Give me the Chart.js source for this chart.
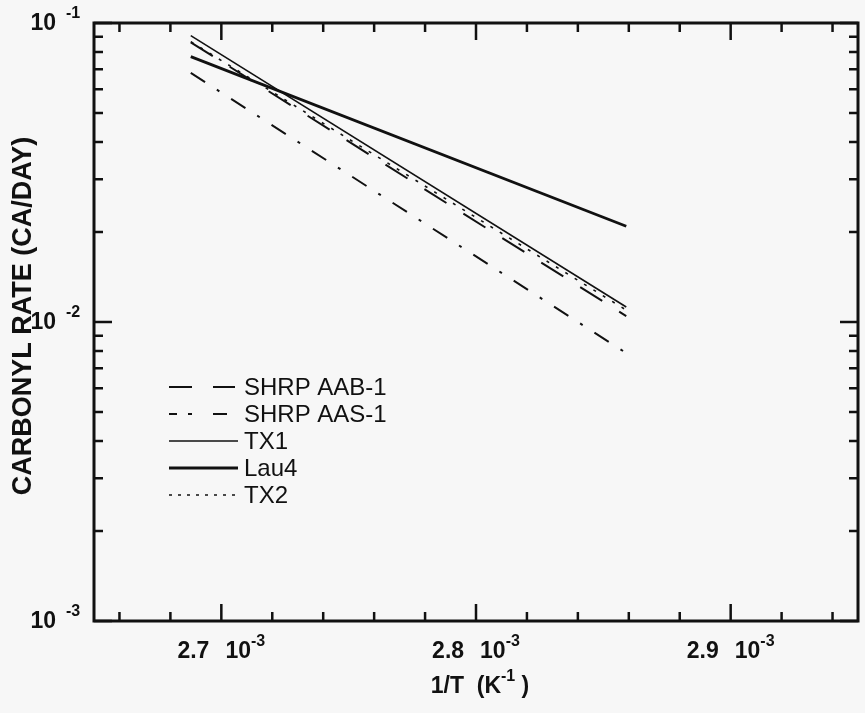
<!DOCTYPE html>
<html>
<head>
<meta charset="utf-8">
<title>Carbonyl rate vs 1/T</title>
<script src="https://cdn.jsdelivr.net/npm/chart.js@4/dist/chart.umd.min.js"></script>
<style>
  html, body { margin: 0; padding: 0; background: #f7f7f7; }
  canvas { display: block; }
</style>
</head>
<body>
<canvas id="rateChart" width="865" height="713"></canvas>
<script>
// 1/T end points of each fitted line (K^-1)
const invT = [2.688e-3, 2.859e-3];

// carbonyl formation rate (CA/day) at those end points
const aab1 = [0.0862, 0.01047];
const aas1 = [0.0681, 0.00787];
const tx1 = [0.0907, 0.01122];
const lau4 = [0.0772, 0.0209];
const tx2 = [0.0866, 0.01096];

const seriesNames = ["SHRP AAB-1", "SHRP AAS-1", "TX1", "Lau4", "TX2"];

// axis ticks
const xMajor = [2.7e-3, 2.8e-3, 2.9e-3];
const xMajorText = ["2.7", "2.8", "2.9"];
const xMinor = [2.66e-3, 2.68e-3, 2.72e-3, 2.74e-3, 2.76e-3, 2.78e-3,
                2.82e-3, 2.84e-3, 2.86e-3, 2.88e-3, 2.92e-3, 2.94e-3];
const yMajor = [1e-3, 1e-2, 1e-1];
const yMajorExp = ["-3", "-2", "-1"];
const yMinor = [2e-3, 3e-3, 4e-3, 5e-3, 6e-3, 7e-3, 8e-3, 9e-3,
                2e-2, 3e-2, 4e-2, 5e-2, 6e-2, 7e-2, 8e-2, 9e-2];

const boldFont = 'bold 23px "Liberation Sans", Arial, sans-serif';
const supFont = 'bold 16px "Liberation Sans", Arial, sans-serif';

function pts(ys) {
  return invT.map((x, i) => ({ x: x, y: ys[i] }));
}

function line(label, ys, width, dash) {
  return {
    label: label,
    data: pts(ys),
    borderColor: "#111",
    borderWidth: width,
    borderDash: dash,
    pointRadius: 0,
    fill: false,
    tension: 0
  };
}

// frame, inward ticks, labels and the in-plot legend
const paperAxes = {
  id: "paperAxes",
  afterDraw(chart) {
    const ctx = chart.ctx;
    const a = chart.chartArea;
    const xs = chart.scales.x;
    const ys = chart.scales.y;
    ctx.save();
    ctx.strokeStyle = "#111";
    ctx.fillStyle = "#111";

    // ticks
    ctx.lineWidth = 2.5;
    ctx.beginPath();
    xMajor.forEach(v => {
      const p = xs.getPixelForValue(v);
      ctx.moveTo(p, a.bottom); ctx.lineTo(p, a.bottom - 17);
      ctx.moveTo(p, a.top); ctx.lineTo(p, a.top + 17);
    });
    xMinor.forEach(v => {
      const p = xs.getPixelForValue(v);
      ctx.moveTo(p, a.bottom); ctx.lineTo(p, a.bottom - 9);
      ctx.moveTo(p, a.top); ctx.lineTo(p, a.top + 9);
    });
    yMajor.forEach(v => {
      const p = ys.getPixelForValue(v);
      ctx.moveTo(a.left, p); ctx.lineTo(a.left + 18, p);
      ctx.moveTo(a.right, p); ctx.lineTo(a.right - 18, p);
    });
    yMinor.forEach(v => {
      const p = ys.getPixelForValue(v);
      ctx.moveTo(a.left, p); ctx.lineTo(a.left + 9, p);
      ctx.moveTo(a.right, p); ctx.lineTo(a.right - 9, p);
    });
    ctx.stroke();

    // frame
    ctx.lineWidth = 3;
    ctx.strokeRect(a.left, a.top, a.right - a.left, a.bottom - a.top);

    // y tick labels: 10^n
    ctx.textBaseline = "middle";
    yMajor.forEach((v, i) => {
      const p = ys.getPixelForValue(v);
      ctx.font = boldFont;
      ctx.textAlign = "right";
      ctx.fillText("10", 56, p + 1);
      ctx.font = supFont;
      ctx.textAlign = "left";
      ctx.fillText(yMajorExp[i], 66, p - 9);
    });

    // x tick labels: "2.7  10^-3"
    xMajor.forEach((v, i) => {
      const p = xs.getPixelForValue(v);
      ctx.font = boldFont;
      const w1 = ctx.measureText(xMajorText[i]).width;
      const w2 = ctx.measureText("10").width;
      ctx.font = supFont;
      const w3 = ctx.measureText("-3").width;
      const gap = 16;
      let x0 = p - (w1 + gap + w2 + w3) / 2;
      ctx.textAlign = "left";
      ctx.font = boldFont;
      ctx.fillText(xMajorText[i], x0, 652);
      x0 += w1 + gap;
      ctx.fillText("10", x0, 652);
      x0 += w2;
      ctx.font = supFont;
      ctx.fillText("-3", x0, 642);
    });

    // x title: 1/T (K^-1)
    ctx.font = boldFont;
    const t1 = "1/T  (K";
    const tw1 = ctx.measureText(t1).width;
    const tw3 = ctx.measureText(" )").width;
    ctx.font = supFont;
    const tw2 = ctx.measureText("-1").width;
    let tx = (a.left + a.right) / 2 + 4 - (tw1 + tw2 + tw3) / 2;
    ctx.font = boldFont;
    ctx.fillText(t1, tx, 687);
    ctx.font = supFont;
    ctx.fillText("-1", tx + tw1, 677);
    ctx.font = boldFont;
    ctx.fillText(" )", tx + tw1 + tw2, 687);

    // y title
    ctx.save();
    ctx.translate(24, (a.top + a.bottom) / 2 - 6);
    ctx.rotate(-Math.PI / 2);
    ctx.textAlign = "center";
    ctx.font = 'bold 27px "Liberation Sans", Arial, sans-serif';
    ctx.fillText("CARBONYL RATE (CA/DAY)", 0, 0);
    ctx.restore();

    // legend inside the plot
    const rows = [387, 414, 441, 468, 495];
    chart.data.datasets.forEach((ds, i) => {
      const yRow = rows[i];
      ctx.save();
      ctx.lineWidth = ds.borderWidth;
      ctx.setLineDash(ds.legendDash || ds.borderDash || []);
      ctx.beginPath();
      ctx.moveTo(169, yRow);
      ctx.lineTo(238, yRow);
      ctx.stroke();
      ctx.restore();
      ctx.font = '24px "Liberation Sans", Arial, sans-serif';
      ctx.textAlign = "left";
      ctx.fillText(ds.label, 244, yRow + 1);
    });

    ctx.restore();
  }
};

const datasets = [
  line(seriesNames[0], aab1, 2, [26, 20]),
  line(seriesNames[1], aas1, 2, [17, 14, 3, 14]),
  line(seriesNames[2], tx1, 1.6, []),
  line(seriesNames[3], lau4, 2.8, []),
  line(seriesNames[4], tx2, 1.6, [3, 8])
];
datasets[0].legendDash = [23, 21, 22, 30];
datasets[1].legendDash = [8, 11, 4, 21, 14, 30];
datasets[4].legendDash = [3, 6];

const ctx = document.getElementById("rateChart").getContext("2d");
new Chart(ctx, {
  type: "line",
  data: { datasets: datasets },
  options: {
    responsive: false,
    animation: false,
    devicePixelRatio: 1,
    layout: { padding: { left: 94, right: 7, top: 23, bottom: 92 } },
    plugins: {
      legend: { display: false },
      tooltip: { enabled: false }
    },
    scales: {
      x: { type: "linear", min: 2.65e-3, max: 2.95e-3, display: false },
      y: { type: "logarithmic", min: 1e-3, max: 1e-1, display: false }
    }
  },
  plugins: [paperAxes]
});
</script>
</body>
</html>
